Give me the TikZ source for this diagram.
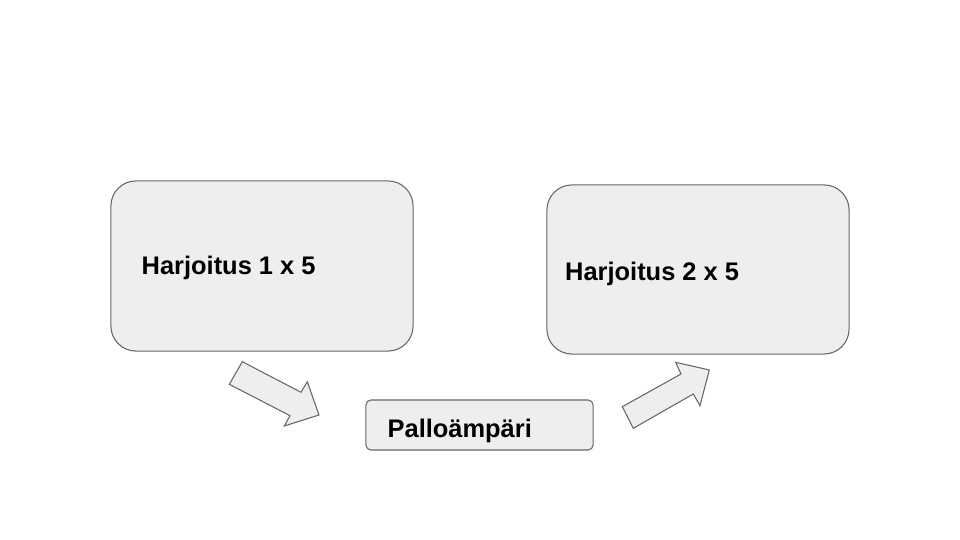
\documentclass[tikz,border=0pt]{standalone}
\usepackage{fontspec}
\setmainfont{Liberation Sans}
\definecolor{boxfill}{RGB}{238,238,238}
\definecolor{boxline}{RGB}{102,102,102}
\tikzset{
  box/.style={draw=boxline, fill=boxfill, line width=0.3pt, rounded corners=0.25cm, minimum width=3.02cm, minimum height=1.7cm},
  label/.style={inner sep=0pt, anchor=base west, font=\fontsize{7.23pt}{8.6pt}\selectfont\bfseries},
  blockarrow/.style={draw=boxline, fill=boxfill, line width=0.3pt, line join=miter}
}
\begin{document}
\begin{tikzpicture}[x=0.01cm, y=-0.01cm]
\useasboundingbox[fill=white] (0,0) rectangle (960,540);
\node[box] (h1) at (262,266) {};
\node[box, minimum height=1.69cm] (h2) at (698,269.5) {};
\node[box, rounded corners=0.05cm, minimum width=2.27cm, minimum height=0.5cm] (pa) at (479.5,425) {};
\node[label] (t1) at (141,275) {Harjoitus 1 x 5};
\node[label] (t2) at (564.5,281) {Harjoitus 2 x 5};
\node[label] (t3) at (387,438) {Palloämpäri};
% arrows
\draw[blockarrow] (242.3,361.7) -- (301,392.3) -- (307.3,381.7) -- (319,415) -- (284.3,426) -- (290,415.7) -- (229.3,384.3) -- cycle;
\draw[blockarrow] (633.3,428.3) -- (693.3,394) -- (700,405.7) -- (709.3,370) -- (675.7,362.3) -- (681,374) -- (622.3,406.7) -- cycle;
\end{tikzpicture}
\end{document}
